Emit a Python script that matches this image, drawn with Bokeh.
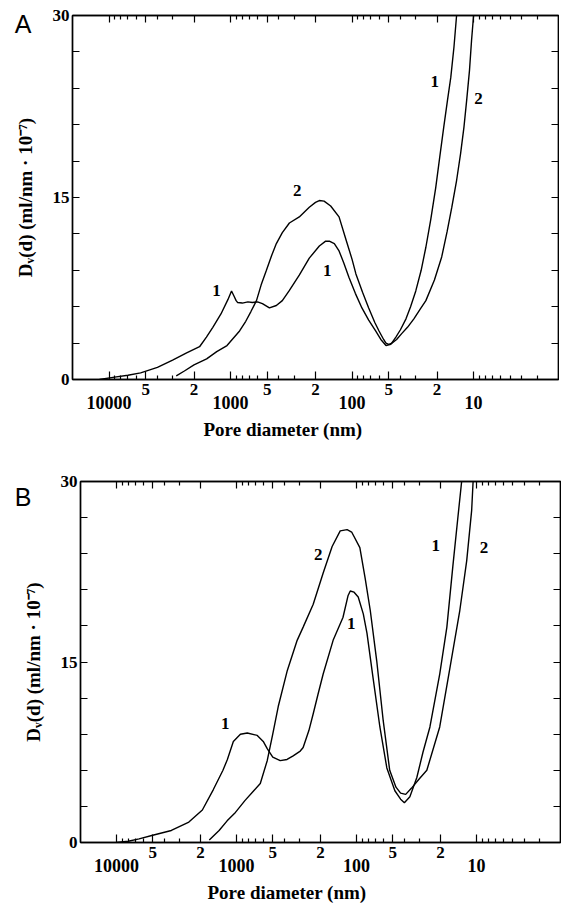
from bokeh.plotting import figure
from bokeh.models import Range1d, FixedTicker, LogAxis, LinearAxis, Title
from bokeh.embed import file_html
from bokeh.resources import INLINE
from bokeh.core.properties import value

# ---------------- data ----------------
# Panel A, curve 1
a1_d = [12000, 9000, 7000, 5500, 4000, 3000, 2300, 1800, 1580, 1400, 1200, 1050, 982, 940, 900,
        877, 800, 720, 661, 600, 547, 479, 420, 375, 330, 272, 225, 186, 165, 154, 140, 128, 117,
        106, 94, 83, 73, 64, 58, 52.6, 48, 43.6, 40, 36, 33, 29.9, 27, 24.7, 22.5, 20.5, 19, 17.6,
        16.4, 15.4, 14.5, 13.8, 13.3]
a1_v = [0.0, 0.2, 0.35, 0.55, 1.0, 1.6, 2.2, 2.7, 3.5, 4.3, 5.4, 6.6, 7.3, 6.9, 6.5,
        6.35, 6.3, 6.4, 6.35, 6.4, 6.25, 5.9, 6.1, 6.5, 7.3, 8.6, 10.0, 11.0, 11.4, 11.4, 11.2, 10.6, 9.6,
        8.4, 7.1, 5.9, 4.9, 4.0, 3.3, 2.8, 2.9, 3.5, 4.1, 5.0, 6.0, 7.3, 9.0, 10.9, 13.2, 15.8, 18.3, 20.8,
        23.0, 24.9, 27.4, 30.0, 31.5]
# Panel A, curve 2
a2_d = [2800, 2400, 2000, 1574, 1300, 1070, 950, 843, 750, 680, 612, 560, 507, 460, 420, 375, 328,
        272, 225, 200, 186, 170, 150, 128, 112, 100, 93, 82, 73, 65, 60, 55, 52.6, 50, 47, 43, 38.9,
        35, 31, 27.5, 24.7, 21, 18.3, 16.5, 15.1, 13.8, 12.8, 12, 11.4, 10.8, 10.4, 10, 9.7]
a2_v = [0.3, 0.7, 1.2, 1.7, 2.3, 2.8, 3.4, 4.0, 4.8, 5.6, 6.5, 7.8, 9.0, 10.2, 11.2, 12.1, 12.9,
        13.4, 14.2, 14.6, 14.75, 14.7, 14.3, 13.4, 11.5, 9.9, 8.7, 7.2, 5.9, 4.7, 4.0, 3.3, 3.0, 2.9, 3.0, 3.3, 3.8,
        4.3, 5.0, 5.8, 6.5, 8.2, 10.1, 12.2, 14.2, 16.4, 18.6, 20.8, 23.0, 25.5, 27.9, 30.0, 31.5]

# Panel B, curve 1
b1_d = [10000, 8000, 6500, 5000, 3500, 2500, 1930, 1563, 1300, 1194, 1065, 930, 815, 673, 600, 556,
        500, 433, 380, 338, 295, 279, 250, 230, 210, 190, 157, 130, 118, 113, 105, 97, 88, 82, 73,
        64, 56, 48, 43, 40, 36, 31.5, 28, 24.5, 20.3, 17.7, 15.8, 14.4, 13.3, 13.0]
b1_v = [0.0, 0.1, 0.3, 0.6, 1.0, 1.7, 2.7, 4.4, 6.0, 6.9, 8.4, 9.0, 9.1, 8.9, 8.4, 7.8,
        7.1, 6.8, 6.9, 7.2, 7.6, 7.9, 9.3, 10.7, 12.3, 14.0, 16.8, 18.7, 20.5, 20.9, 20.8, 20.4, 19.0, 17.4, 13.7,
        9.6, 6.2, 4.3, 3.6, 3.3, 3.8, 5.4, 7.5, 9.6, 14.0, 17.9, 22.9, 26.8, 30.1, 31.0]
# Panel B, curve 2
b2_d = [1690, 1400, 1200, 1023, 850, 720, 635, 556, 500, 450, 378, 313, 279, 230, 190, 160, 137,
        120, 110, 94, 85, 77, 68, 60, 53, 47, 43, 39, 35, 30, 26, 20.3, 16.7, 13.8, 12.1, 11, 10.7, 10.5]
b2_v = [0.2, 1.0, 1.8, 2.5, 3.5, 4.3, 4.9, 6.8, 9.0, 11.3, 14.3, 16.8, 17.9, 19.8, 22.4, 24.6, 25.9,
        26.0, 25.8, 24.5, 22.0, 19.3, 15.1, 10.1, 6.0, 4.6, 4.1, 4.0, 4.5, 5.3, 6.0, 9.6, 14.5, 19.3, 23.4, 27.6, 30.0, 31.0]

# curve labels
a_lab_d = [1303, 282, 160, 20.9, 9.1]
a_lab_v = [7.3, 15.6, 9.0, 24.6, 23.2]
a_lab_t = ["1", "2", "1", "1", "2"]
b_lab_d = [1242, 209, 111, 21.9, 8.7]
b_lab_v = [9.9, 23.9, 18.2, 24.7, 24.5]
b_lab_t = ["1", "2", "1", "1", "2"]

# axis ticks
decades = [10000, 1000, 100, 10]
decade_labels = ["10000", "1000", "100", "10"]
mid_ticks = [5000, 2000, 500, 200, 50, 20]
mid_labels = ["5", "2", "5", "2", "5", "2"]
minor_ticks = [9000, 8000, 7000, 6000, 4000, 3000,
               900, 800, 700, 600, 400, 300,
               90, 80, 70, 60, 40, 30,
               9, 8, 7, 6, 5, 4, 3]
y_major = [0, 15, 30]
y_minor = [3, 6, 9, 12, 18, 21, 24, 27]

x_title = "Pore diameter (nm)"
y_title = "D\u1d65(d) (ml/nm \u00b7 10\u207b\u2077)"

SERIF = "Liberation Serif"


def style_text(ax, size="17px"):
    ax.major_label_text_font = SERIF
    ax.major_label_text_font_style = "bold"
    ax.major_label_text_font_size = size
    ax.major_label_text_color = "black"
    ax.axis_label_text_font = SERIF
    ax.axis_label_text_font_style = "bold"
    ax.axis_label_text_font_size = "19px"
    ax.axis_label_text_color = "black"
    ax.axis_line_color = "black"
    ax.axis_line_width = 1.4
    ax.major_tick_line_color = "black"
    ax.minor_tick_line_color = "black"
    ax.major_tick_line_width = 1.2
    ax.minor_tick_line_width = 1.2


def make_panel(letter, letter_y, c1d, c1v, c2d, c2v, ld, lv, lt,
               width, height, left, top, bottom, letter_standoff, title_offset):
    p = figure(width=width, height=height, x_axis_type="log",
               x_range=Range1d(20000, 2), y_range=Range1d(0, 30),
               output_backend="svg", toolbar_location=None,
               min_border_left=left, min_border_right=1, min_border_top=top,
               min_border_bottom=bottom)
    p.grid.visible = False
    p.outline_line_color = "black"
    p.outline_line_width = 1.4
    p.background_fill_color = "white"

    # nearest bottom axis: ticks + "5"/"2" labels
    xa = p.xaxis[0]
    style_text(xa)
    xa.ticker = FixedTicker(ticks=mid_ticks + decades, minor_ticks=minor_ticks)
    ov = {t: l for t, l in zip(mid_ticks, mid_labels)}
    ov.update({t: "" for t in decades})
    xa.major_label_overrides = ov
    xa.major_tick_in = 8
    xa.major_tick_out = 0
    xa.minor_tick_in = 4
    xa.minor_tick_out = 0
    xa.major_label_standoff = 4

    # second bottom axis: decade labels
    xd = LogAxis(ticker=FixedTicker(ticks=decades, minor_ticks=[]))
    style_text(xd, "18px")
    xd.major_label_overrides = dict(zip(decades, decade_labels))
    xd.major_tick_in = 0
    xd.major_tick_out = 0
    xd.minor_tick_in = 0
    xd.minor_tick_out = 0
    xd.axis_line_color = None
    xd.major_label_standoff = -2
    p.add_layout(xd, "below")

    # x-axis title (left of centre, as in the original)
    p.add_layout(Title(text=x_title, align="left", offset=title_offset, standoff=10,
                       text_font=SERIF, text_font_style="bold", text_font_size="19px",
                       text_color="black"), "below")

    # top axis (ticks only)
    xt = LogAxis(ticker=FixedTicker(ticks=decades + mid_ticks, minor_ticks=minor_ticks))
    style_text(xt)
    xt.major_label_overrides = {t: "" for t in decades + mid_ticks}
    xt.major_label_standoff = 0
    xt.major_tick_in = 7
    xt.major_tick_out = 0
    xt.minor_tick_in = 4
    xt.minor_tick_out = 0
    p.add_layout(xt, "above")

    # left axis
    ya = p.yaxis[0]
    style_text(ya)
    ya.ticker = FixedTicker(ticks=y_major, minor_ticks=y_minor)
    ya.major_tick_in = 7
    ya.major_tick_out = 0
    ya.minor_tick_in = 7
    ya.minor_tick_out = 0
    ya.major_label_standoff = 3
    ya.axis_label = y_title
    ya.axis_label_standoff = 14

    # outer left axis carrying only the panel letter
    yl = LinearAxis(ticker=FixedTicker(ticks=[letter_y], minor_ticks=[]))
    yl.major_label_overrides = {letter_y: letter}
    yl.major_label_text_font = "Liberation Sans"
    yl.major_label_text_font_size = "25px"
    yl.major_label_text_color = "black"
    yl.axis_line_color = None
    yl.major_tick_in = 0
    yl.major_tick_out = 0
    yl.minor_tick_in = 0
    yl.minor_tick_out = 0
    yl.major_label_standoff = letter_standoff
    p.add_layout(yl, "left")

    # right axis (ticks only)
    yr = LinearAxis(ticker=FixedTicker(ticks=y_major, minor_ticks=y_minor))
    style_text(yr)
    yr.major_label_overrides = {t: "" for t in y_major}
    yr.major_label_standoff = 0
    yr.major_tick_in = 7
    yr.major_tick_out = 0
    yr.minor_tick_in = 7
    yr.minor_tick_out = 0
    p.add_layout(yr, "right")

    p.line(c1d, c1v, line_color="black", line_width=1.4)
    p.line(c2d, c2v, line_color="black", line_width=1.4)

    p.text(x=ld, y=lv, text=lt, text_font=value(SERIF), text_font_style="bold",
           text_font_size="17px", text_align="center", text_baseline="middle",
           text_color="black")
    return p


pA = make_panel("A", 29.3, a1_d, a1_v, a2_d, a2_v, a_lab_d, a_lab_v, a_lab_t,
                width=559, height=470, left=72, top=15, bottom=91,
                letter_standoff=-20, title_offset=131)
pB = make_panel("B", 28.75, b1_d, b1_v, b2_d, b2_v, b_lab_d, b_lab_v, b_lab_t,
                width=561, height=438, left=80, top=11, bottom=66,
                letter_standoff=-12, title_offset=127)

open("out.html", "w").write(file_html([pA, pB], INLINE))
